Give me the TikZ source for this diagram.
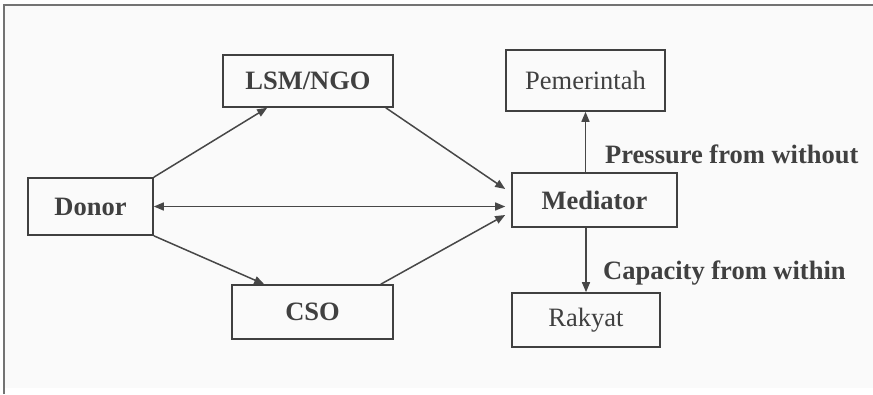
\documentclass[tikz,border=0pt]{standalone}
\usepackage{fontspec}
\setmainfont{Liberation Serif}
\usetikzlibrary{arrows.meta}
\begin{document}
\begin{tikzpicture}[x=1pt,y=-1pt,
  box/.style={draw=black!75,line width=1.6pt,inner sep=0pt},
  conn/.style={draw=black!72,line width=1.5pt,-{Triangle[length=10pt,width=8pt]}},
  lbl/.style={font=\fontsize{26.5}{30}\selectfont\bfseries,text=black!75},
  plain/.style={font=\fontsize{26.5}{30}\selectfont,text=black!75}]
  \useasboundingbox (0,0) rectangle (873,394);
  % panel background and its left and top rules
  \fill[black!2] (4,5) rectangle (873,388);
  \draw[black!55,line width=2pt] (4,394) -- (4,5) -- (873,5);

  % boxes
  \node[box,minimum width=170pt,minimum height=52pt,lbl] (lsm) at (308,81) {LSM/NGO};
  \node[box,minimum width=159pt,minimum height=61pt,plain] (pem) at (585.5,80.5) {Pemerintah};
  \node[box,minimum width=125pt,minimum height=57pt,lbl] (donor) at (90.5,206.5) {Donor};
  \node[box,minimum width=165pt,minimum height=54pt,lbl] (med) at (594.5,200) {Mediator};
  \node[box,minimum width=148pt,minimum height=54pt,plain] (rak) at (586,320) {Rakyat};
  \node[box,minimum width=161pt,minimum height=54pt,lbl] (cso) at (312.5,312) {CSO};

  % connectors
  \draw[conn] (donor.north east) -- ([xshift=45pt]lsm.south west);
  \draw[conn] (donor.south east) -- ([xshift=33pt]cso.north west);
  \draw[conn] ([xshift=-8pt]lsm.south east) -- ([xshift=-6pt,yshift=11pt]med.west);
  \draw[conn] ([xshift=-13pt]cso.north east) -- ([xshift=-6pt,yshift=-15pt]med.west);
  \draw[conn,{Triangle[length=10pt,width=8pt]}-{Triangle[length=10pt,width=8pt]}] (donor.east) -- ([xshift=-6pt]med.west |- donor.east);
  \draw[conn] (med.north -| pem.south) -- (pem.south);
  \draw[conn] (med.south -| rak.north) -- (rak.north);

  % arrow labels
  \node[lbl,anchor=base west,inner sep=0pt] (pres) at (605,163) {Pressure from without};
  \node[lbl,anchor=base west,inner sep=0pt] (capa) at (603,279) {Capacity from within};
\end{tikzpicture}
\end{document}
